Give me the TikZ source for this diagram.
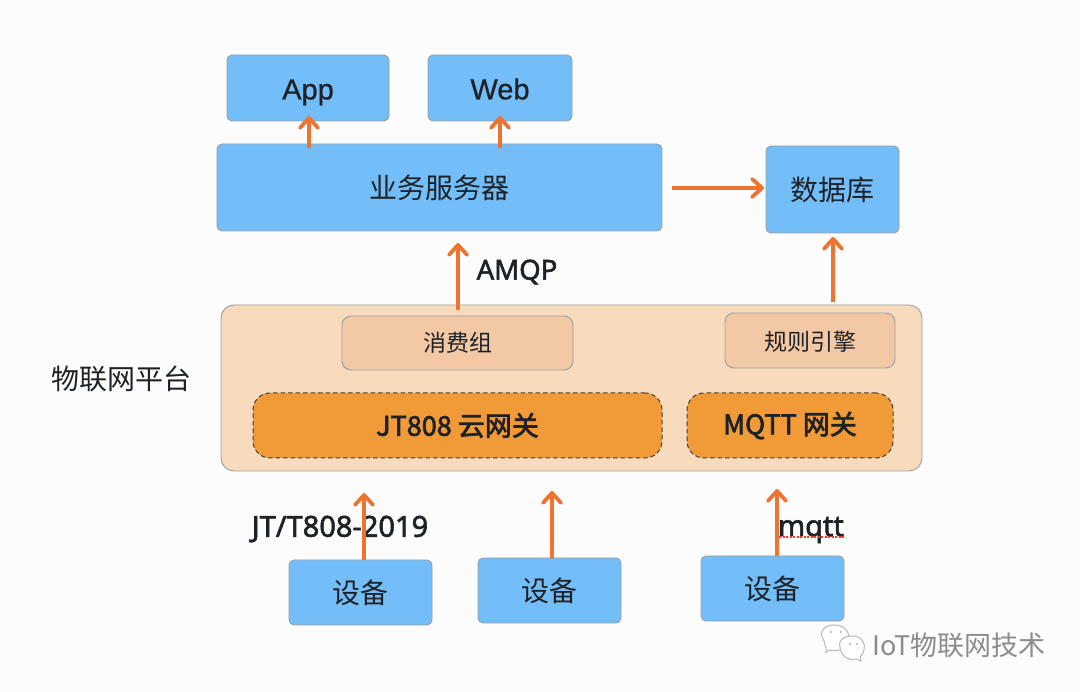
\documentclass[tikz,border=0pt]{standalone}
\usepackage{fontspec}
\setmainfont{Liberation Sans}
\newfontfamily\cjk{Noto Sans CJK SC}
\newfontfamily\cjkb[FakeBold=2.5]{Noto Sans CJK SC}
\newfontfamily\latb[FakeBold=2]{Noto Sans}
\newfontfamily\apptx[FakeBold=0.8]{Liberation Sans}
\usetikzlibrary{arrows.meta}
\definecolor{boxblue}{HTML}{73BDF9}
\definecolor{boxedge}{HTML}{9A9FA3}
\definecolor{platform}{HTML}{F8DABD}
\definecolor{inner}{HTML}{F3C8A4}
\definecolor{gate}{HTML}{F09A38}
\definecolor{arrowc}{HTML}{ED7330}
\definecolor{txt}{HTML}{1E2227}
\definecolor{spellred}{HTML}{FF3030}
\tikzset{
  x=1pt,y=-1pt,
  every node/.style={inner sep=0pt,outer sep=0pt,text=txt},
  bluebox/.style={draw=boxedge,line width=0.9pt,fill=boxblue,rounded corners=5pt,font=\cjk\fontsize{28}{30}\selectfont},
  platbox/.style={draw=boxedge,line width=0.9pt,fill=platform,rounded corners=13pt},
  innerbox/.style={draw=boxedge,line width=0.9pt,fill=inner,rounded corners=9pt,font=\cjk\fontsize{23}{25}\selectfont},
  gatebox/.style={draw=black!75,dash pattern=on 4.5pt off 3pt,line width=1pt,fill=gate,rounded corners=17pt,font=\cjkb\fontsize{27}{29}\selectfont},
  flow/.style={draw=arrowc,line width=3.8pt,-{Straight Barb[length=10pt,width=18pt,line width=3.8pt,round]}},
  labb/.style={font=\latb\fontsize{27.5}{30}\selectfont,anchor=center},
  bub/.style={draw=black!28,line width=1pt,fill=white},
  spelldot/.style={fill=spellred},
}
\begin{document}
\begin{tikzpicture}
\useasboundingbox (0,0) rectangle (1080,692);
\fill[white!99!black] (0,0) rectangle (1080,692);
% boxes
\node[bluebox,minimum width=162pt,minimum height=66pt] (app) at (308,88) {};
\node[font=\apptx\fontsize{29}{31}\selectfont] (apptext) at (308,92.5) {App};
\node[bluebox,minimum width=144pt,minimum height=66pt] (web) at (500,88) {};
\node[font=\apptx\fontsize{29}{31}\selectfont] (webtext) at (500,89) {Web};
\node[bluebox,minimum width=445pt,minimum height=87pt] (srv) at (439.5,187.5) {业务服务器};
\node[bluebox,minimum width=133pt,minimum height=87pt] (db) at (832.5,189.5) {数据库};
\node[platbox,minimum width=701pt,minimum height=166pt] (plat) at (571.5,388) {};
\node[innerbox,minimum width=231pt,minimum height=54pt] (consume) at (457.5,343) {消费组};
\node[innerbox,minimum width=170pt,minimum height=55pt] (rule) at (810,340.5) {};
\node[font=\cjk\fontsize{23}{25}\selectfont] (ruletext) at (810,342) {规则引擎};
\node[gatebox,minimum width=409pt,minimum height=65pt] (jt) at (457.5,425.5) {JT808 云网关};
\node[gatebox,minimum width=206pt,minimum height=65pt] (mq) at (790,425.5) {MQTT 网关};
\node[bluebox,minimum width=143pt,minimum height=65pt] (d1) at (360.5,592.5) {设备};
\node[bluebox,minimum width=143pt,minimum height=65pt] (d2) at (549.5,590.5) {设备};
\node[bluebox,minimum width=143pt,minimum height=65pt] (d3) at (772.5,588.5) {设备};
% labels
\node[font=\cjk\fontsize{28}{30}\selectfont] (pl) at (121.5,379) {物联网平台};
\node[labb] (amqp) at (517,272) {AMQP};
\node[labb,font=\latb\fontsize{29}{31}\selectfont] (jtl) at (340,529) {JT/T808-2019};
\node[labb,font=\latb\fontsize{29}{31}\selectfont] (mq2) at (811,530) {mqtt};
% free ends
\coordinate (a1) at (309,148); \coordinate (a1e) at (309,116);
\coordinate (a2) at (500,148); \coordinate (a2e) at (500,116);
\coordinate (a3) at (672,188); \coordinate (a3e) at (764,188);
\coordinate (a4) at (458,310); \coordinate (a4e) at (458,243);
\coordinate (a5) at (833,302); \coordinate (a5e) at (833,237);
\coordinate (a6) at (364,560); \coordinate (a6e) at (364,493);
\coordinate (a7) at (552,558); \coordinate (a7e) at (552,491);
\coordinate (a8) at (777,556); \coordinate (a8e) at (777,489);
\draw[flow] (a1) -- (a1e);
\draw[flow] (a2) -- (a2e);
\draw[flow] (a3) -- (a3e);
\draw[flow] (a4) -- (a4e);
\draw[flow] (a5) -- (a5e);
\draw[flow] (a6) -- (a6e);
\draw[flow] (a7) -- (a7e);
\draw[flow] (a8) -- (a8e);
% spell-check underline
\foreach \ux in {779,782.5,...,842}{\fill[spelldot] (\ux,536.5) rectangle +(2.2,2);}
% watermark
\draw[bub] (824,641) .. controls (818,632) and (824,625) .. (834,625) .. controls (846,625) and (851,634) .. (848,642) .. controls (845,650) and (836,652) .. (829,650) -- (826,653) -- (826,648) .. controls (825,646) and (825,644) .. (824,641) -- cycle;
\draw[bub] (840,647) .. controls (838,639) and (845,636) .. (852,636) .. controls (862,636) and (866,644) .. (864,650) .. controls (863,654) and (861,656) .. (860,657) -- (861,661) -- (856,659) .. controls (848,661) and (841,656) .. (840,647) -- cycle;
\fill[black!30] (831,632) circle (1.2pt) (841,632) circle (1.2pt) (850,644) circle (1.2pt) (857,644) circle (1.2pt);
\node[font=\cjk\fontsize{27}{29}\selectfont,text=white] (wm2) at (959.8,645.8) {IoT物联网技术};
\node[font=\cjk\fontsize{27}{29}\selectfont,text=black!45] (wm) at (959,645) {IoT物联网技术};
\end{tikzpicture}
\end{document}
